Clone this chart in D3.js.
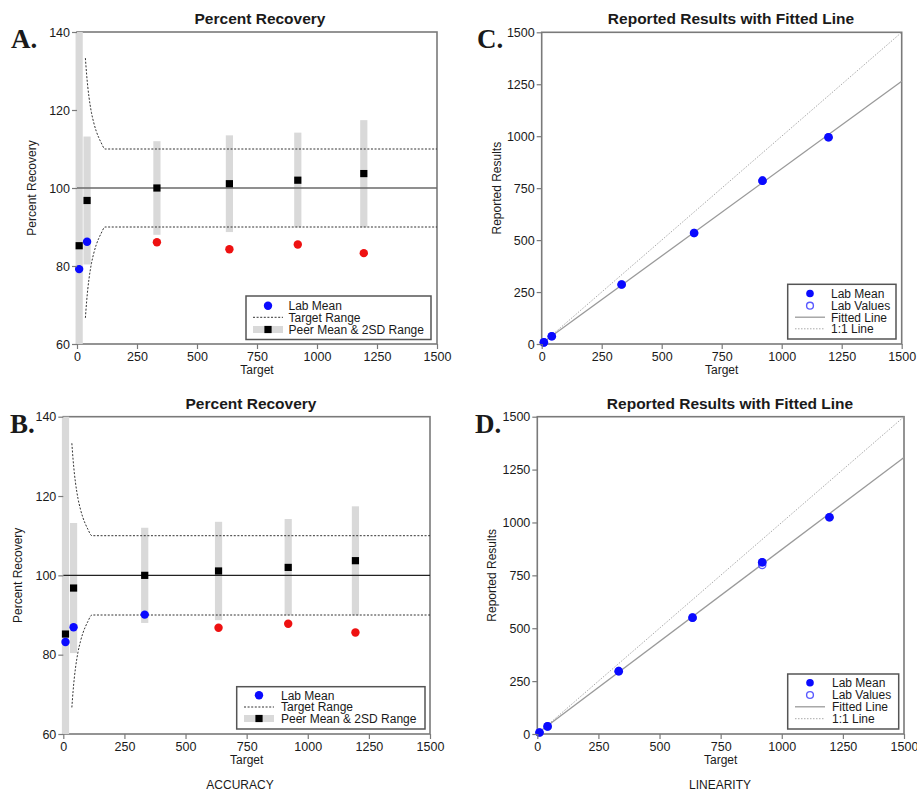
<!DOCTYPE html>
<html>
<head>
<meta charset="utf-8">
<script src="https://cdn.jsdelivr.net/npm/d3@7"></script>
<style>
  html, body { margin: 0; padding: 0; background: #fff; }
  svg { display: block; }
  text { font-family: "Liberation Sans", Arial, Helvetica, sans-serif; fill: #1a1a1a; }
</style>
</head>
<body>
<svg id="chart" width="917" height="793"></svg>
<script>
// ---------------- DATA ----------------
const targets = [9, 42, 333, 635, 920, 1195];

const peerMean = [85.2, 96.8, 100.0, 101.1, 102.0, 103.7];
const peerLow  = [30, 80.4, 88.0, 88.7, 89.9, 89.9];
const peerHigh = [170, 113.2, 112.0, 113.5, 114.2, 117.4];

const labPctA = [79.2, 86.2, 86.1, 84.3, 85.5, 83.3];
const statusA = ["in", "in", "out", "out", "out", "out"];
const labPctB = [83.2, 86.9, 90.1, 86.8, 87.8, 85.6];
const statusB = ["in", "in", "in", "out", "out", "out"];

const rangeTargets = [35, 40, 45, 50, 60, 70, 80, 90, 100, 117, 1500];
const rangeUpper   = [133.3, 129.2, 125.9, 123.3, 119.4, 116.7, 114.6, 113.0, 111.7, 110, 110];
const rangeLower   = [66.7, 70.8, 74.1, 76.7, 80.6, 83.3, 85.4, 87.0, 88.3, 90, 90];

const labMeanC = [8, 37, 286, 534, 786, 995];
const labValC_x = [9, 42, 333, 635, 920, 1195];
const labValC_y = [8, 37, 286, 534, 786, 995];
const fitC_x = [9, 1500];
const fitC_y = [11, 1264];

const labMeanD = [7, 36, 297, 550, 812, 1025];
const labValD_x = [9, 42, 333, 635, 920, 920, 1195];
const labValD_y = [7, 36, 297, 550, 812, 799, 1025];
const fitD_x = [9, 1500];
const fitD_y = [11, 1307];

const oneToOne_x = [9, 1500];
const oneToOne_y = [9, 1500];

const tickPct = [60, 80, 100, 120, 140];
const tickTarget = [0, 250, 500, 750, 1000, 1250, 1500];
const tickReported = [0, 250, 500, 750, 1000, 1250, 1500];

const legendRecovery = ["Lab Mean", "Target Range", "Peer Mean & 2SD Range"];
const legendLinearity = ["Lab Mean", "Lab Values", "Fitted Line", "1:1 Line"];

// ---------------- STYLE ----------------
const BLUE = "#0a0aff", RED = "#ee1111", BAR = "#d9d9d9", FRAME = "#7a7a7a";

const svg = d3.select("#chart");

function drawFrame(g, x, y) {
  const [l, r] = x.range(); const [b, t] = y.range();
  g.append("rect").attr("x", l).attr("y", t).attr("width", r - l).attr("height", b - t)
    .attr("fill", "none").attr("stroke", FRAME).attr("stroke-width", 1.6);
}

function axesAndLabels(g, x, y, xt, yt, cfg) {
  const [l, r] = x.range(); const [b, t] = y.range();
  const ax = g.append("g").attr("transform", `translate(0,${b})`)
    .call(d3.axisBottom(x).tickValues(xt).tickSize(5).tickPadding(3).tickFormat(d3.format("d")));
  const ay = g.append("g").attr("transform", `translate(${l},0)`)
    .call(d3.axisLeft(y).tickValues(yt).tickSize(5).tickPadding(2).tickFormat(d3.format("d")));
  [ax, ay].forEach(a => {
    a.select(".domain").remove();
    a.selectAll(".tick line").attr("stroke", FRAME).attr("stroke-width", 1.2);
    a.selectAll(".tick text").style("font-size", "12.5px").attr("fill", "#1a1a1a")
      .style("font-family", '"Liberation Sans", Arial, sans-serif');
  });
  g.append("text").attr("x", cfg.titleX).attr("y", t - 8).attr("text-anchor", "middle")
    .style("font-size", "15.5px").style("font-weight", "bold").text(cfg.title);
  g.append("text").attr("x", (l + r) / 2).attr("y", b + 30).attr("text-anchor", "middle")
    .style("font-size", "12px").text("Target");
  g.append("text").attr("transform", `translate(${cfg.ylabX},${(t + b) / 2}) rotate(-90)`)
    .attr("text-anchor", "middle").style("font-size", "12px").text(cfg.ylab);
  g.append("text").attr("x", cfg.letterX).attr("y", t + 16)
    .style("font-family", '"Liberation Serif", "Times New Roman", serif')
    .style("font-size", "27px").style("font-weight", "bold").attr("fill", "#000").text(cfg.letter);
}

function recoveryPanel(cfg, labPct, status) {
  const g = svg.append("g");
  const x = d3.scaleLinear().domain([0, 1500]).range([cfg.l, cfg.r]);
  const y = d3.scaleLinear().domain([60, 140]).range([cfg.b, cfg.t]);
  drawFrame(g, x, y);
  const clipId = "clip" + cfg.letter.replace(".", "");
  g.append("clipPath").attr("id", clipId).append("rect")
    .attr("x", cfg.l - 10).attr("y", cfg.t).attr("width", cfg.r - cfg.l + 20).attr("height", cfg.b - cfg.t);
  const p = g.append("g").attr("clip-path", `url(#${clipId})`);
  // peer bars
  p.selectAll("rect.bar").data(targets).join("rect").attr("class", "bar")
    .attr("x", (d) => x(d) - 3.6).attr("width", 7.2)
    .attr("y", (d, i) => y(peerHigh[i])).attr("height", (d, i) => y(peerLow[i]) - y(peerHigh[i]))
    .attr("fill", BAR);
  // 100 line
  p.append("line").attr("x1", cfg.l).attr("x2", cfg.r).attr("y1", y(100)).attr("y2", y(100))
    .attr("stroke", cfg.refColor).attr("stroke-width", cfg.refWidth);
  // target range
  const lineU = d3.line().x((d, i) => x(rangeTargets[i])).y(d => y(d)).curve(d3.curveMonotoneX);
  [rangeUpper, rangeLower].forEach(arr => {
    p.append("path").attr("d", lineU(arr)).attr("fill", "none")
      .attr("stroke", "#333").attr("stroke-width", 1).attr("stroke-dasharray", "2,1.6");
  });
  // peer means
  p.selectAll("rect.pm").data(targets).join("rect").attr("class", "pm")
    .attr("x", d => x(d) - 3.6).attr("y", (d, i) => y(peerMean[i]) - 3.6)
    .attr("width", 7.2).attr("height", 7.2).attr("fill", "#000");
  // lab means
  p.selectAll("circle.lm").data(targets).join("circle").attr("class", "lm")
    .attr("cx", d => x(d)).attr("cy", (d, i) => y(labPct[i])).attr("r", 4.2)
    .attr("fill", (d, i) => status[i] === "in" ? BLUE : RED);
  axesAndLabels(g, x, y, tickTarget, tickPct, cfg);
  // legend
  const L = cfg.leg;
  g.append("rect").attr("x", L.x0).attr("y", L.y0).attr("width", L.x1 - L.x0).attr("height", L.y1 - L.y0)
    .attr("fill", "#fff").attr("stroke", "#555").attr("stroke-width", 1.5);
  const rows = L.rows;
  g.append("circle").attr("cx", L.mx).attr("cy", rows[0]).attr("r", 4.2).attr("fill", BLUE);
  g.append("line").attr("x1", L.lx0).attr("x2", L.lx1).attr("y1", rows[1]).attr("y2", rows[1])
    .attr("stroke", "#333").attr("stroke-width", 1).attr("stroke-dasharray", "2,1.6");
  g.append("line").attr("x1", L.lx0).attr("x2", L.lx1).attr("y1", rows[2]).attr("y2", rows[2])
    .attr("stroke", BAR).attr("stroke-width", 7);
  g.append("rect").attr("x", L.mx - 3.6).attr("y", rows[2] - 3.6).attr("width", 7.2).attr("height", 7.2).attr("fill", "#000");
  legendRecovery.forEach((s, i) => {
    g.append("text").attr("x", L.tx).attr("y", rows[i]).attr("dy", "0.36em")
      .style("font-size", "12px").text(s);
  });
}

function linearityPanel(cfg, labMean, vx, vy, fx, fy) {
  const g = svg.append("g");
  const x = d3.scaleLinear().domain([0, 1500]).range([cfg.l, cfg.r]);
  const y = d3.scaleLinear().domain([0, 1500]).range([cfg.b, cfg.t]);
  drawFrame(g, x, y);
  const ln = d3.line().x(d => x(d[0])).y(d => y(d[1]));
  g.append("path").attr("d", ln(oneToOne_x.map((d, i) => [d, oneToOne_y[i]])))
    .attr("fill", "none").attr("stroke", "#aaa").attr("stroke-width", 1).attr("stroke-dasharray", "1.5,1.5");
  g.append("path").attr("d", ln(fx.map((d, i) => [d, fy[i]])))
    .attr("fill", "none").attr("stroke", "#9a9a9a").attr("stroke-width", 1.3);
  g.selectAll("circle.lv").data(vx).join("circle").attr("class", "lv")
    .attr("cx", d => x(d)).attr("cy", (d, i) => y(vy[i])).attr("r", 3.6)
    .attr("fill", "none").attr("stroke", "#5a5aff").attr("stroke-width", 1.4);
  g.selectAll("circle.lm").data(targets).join("circle").attr("class", "lm")
    .attr("cx", d => x(d)).attr("cy", (d, i) => y(labMean[i])).attr("r", 4.3).attr("fill", BLUE);
  axesAndLabels(g, x, y, tickTarget, tickReported, cfg);
  const L = cfg.leg;
  g.append("rect").attr("x", L.x0).attr("y", L.y0).attr("width", L.x1 - L.x0).attr("height", L.y1 - L.y0)
    .attr("fill", "#fff").attr("stroke", "#555").attr("stroke-width", 1.5);
  const rows = L.rows;
  g.append("circle").attr("cx", L.mx).attr("cy", rows[0]).attr("r", 3.8).attr("fill", BLUE);
  g.append("circle").attr("cx", L.mx).attr("cy", rows[1]).attr("r", 3.4).attr("fill", "none")
    .attr("stroke", "#5a5aff").attr("stroke-width", 1.4);
  g.append("line").attr("x1", L.lx0).attr("x2", L.lx1).attr("y1", rows[2]).attr("y2", rows[2])
    .attr("stroke", "#9a9a9a").attr("stroke-width", 1.3);
  g.append("line").attr("x1", L.lx0).attr("x2", L.lx1).attr("y1", rows[3]).attr("y2", rows[3])
    .attr("stroke", "#aaa").attr("stroke-width", 1).attr("stroke-dasharray", "1.5,1.5");
  legendLinearity.forEach((s, i) => {
    g.append("text").attr("x", L.tx).attr("y", rows[i]).attr("dy", "0.36em")
      .style("font-size", "12px").text(s);
  });
}

recoveryPanel({
  l: 77, r: 437, t: 32, b: 344, title: "Percent Recovery", titleX: 260, ylab: "Percent Recovery", ylabX: 36,
  letter: "A.", letterX: 11, refColor: "#6a6a6a", refWidth: 1.6,
  leg: { x0: 246, x1: 431, y0: 296, y1: 339.5, rows: [305.7, 317.3, 329.5], mx: 268, lx0: 253, lx1: 283, tx: 288.5 }
}, labPctA, statusA);

recoveryPanel({
  l: 63.3, r: 430, t: 416.7, b: 734, title: "Percent Recovery", titleX: 251, ylab: "Percent Recovery", ylabX: 22,
  letter: "B.", letterX: 10, refColor: "#222", refWidth: 1.1,
  leg: { x0: 236.7, x1: 425, y0: 686.7, y1: 729, rows: [695.2, 707, 718.5], mx: 259, lx0: 244, lx1: 274, tx: 281 }
}, labPctB, statusB);

linearityPanel({
  l: 541.7, r: 901.7, t: 32.3, b: 344, title: "Reported Results with Fitted Line", titleX: 731,
  ylab: "Reported Results", ylabX: 501, letter: "C.", letterX: 477,
  leg: { x0: 787.7, x1: 896, y0: 284.3, y1: 339, rows: [293.5, 305.7, 317.2, 328.8], mx: 810, lx0: 795, lx1: 825, tx: 831 }
}, labMeanC, labValC_x, labValC_y, fitC_x, fitC_y);

linearityPanel({
  l: 537.3, r: 904, t: 416.7, b: 734, title: "Reported Results with Fitted Line", titleX: 730,
  ylab: "Reported Results", ylabX: 496, letter: "D.", letterX: 475,
  leg: { x0: 787.7, x1: 898.7, y0: 674, y1: 729, rows: [682.8, 695, 706.8, 718.7], mx: 810, lx0: 795, lx1: 825, tx: 832 }
}, labMeanD, labValD_x, labValD_y, fitD_x, fitD_y);

svg.append("text").attr("x", 240).attr("y", 789).attr("text-anchor", "middle").style("font-size", "12px").text("ACCURACY");
svg.append("text").attr("x", 720).attr("y", 789).attr("text-anchor", "middle").style("font-size", "12px").text("LINEARITY");
</script>
</body>
</html>
